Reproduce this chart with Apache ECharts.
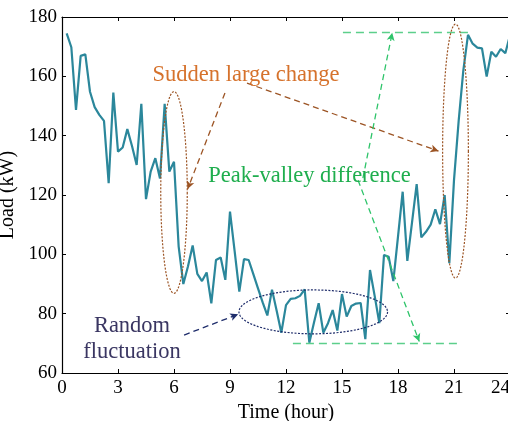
<!DOCTYPE html>
<html>
<head>
<meta charset="utf-8">
<script src="https://cdn.jsdelivr.net/npm/echarts@6/dist/echarts.min.js"></script>
<style>
html, body { margin: 0; padding: 0; background: #fff; }
#main { width: 508px; height: 421px; }
</style>
</head>
<body>
<div id="main"></div>
<script>
// load every 15 min (kW), first sample at 0:15
var loads = [
    174.5, 169.8, 148.7, 166.9, 167.4, 154.8, 149.6, 147, 145, 124,
    154.5, 134.6, 136, 142.2, 136.5, 130.1, 150.7, 118.6, 127.9, 132.4,
    125.6, 150.7, 127.9, 131.2, 102.6, 90, 96, 103, 93.4, 91,
    93.9, 83.5, 98.1, 98.9, 91.4, 114.4, 101, 87.4, 98.4, 98.1,
    93.3, 88.5, 83.8, 79.4, 88.1, 81, 73.6, 82.9, 85, 85.2,
    86, 88.2, 70.2, 77, 83.5, 73.6, 76.8, 81.2, 74.3, 86.6,
    79, 82.6, 83.4, 83.6, 71.4, 94.7, 86, 76.8, 99.8, 99.2,
    91, 106, 121.1, 97.8, 110.7, 123.7, 105.7, 107.6, 110, 115.2,
    110.2, 120, 97, 125, 145, 162, 174, 171, 169.7, 169.4,
    159.9, 168.3, 166.6, 169.2, 167.8, 173.9
];
var hours = loads.map(function(v, i) { return (i + 1) * 0.25; });

var xMin = 0, xMax = 24, xStep = 3;
var yMin = 60, yMax = 180, yStep = 20;
var peakLoad = 175, valleyLoad = 70;

var serif = '"Liberation Serif", "Times New Roman", serif';
var lineColor = '#2b879b';
var brown = '#9c5424', orange = '#d6722c';
var green = '#2ec46a', greenText = '#1fae4e', greenLight = '#5ccf8b';
var navy = '#1f2d6b', purple = '#3a3662';

var myChart = echarts.init(document.getElementById('main'));

function axisBase(pos) {
    return {
        type: 'value',
        position: pos,
        axisLine: { show: true, onZero: false, lineStyle: { color: '#000', width: 1.2 } },
        axisTick: { show: true, inside: true, length: 4, lineStyle: { color: '#000', width: 1 } },
        splitLine: { show: false },
        axisLabel: { show: false }
    };
}

var xBottom = axisBase('bottom');
xBottom.axisLabel = { show: true, color: '#000', fontSize: 19, fontFamily: serif, margin: 6, alignMaxLabel: 'right' };
xBottom.name = 'Time (hour)';
xBottom.nameLocation = 'middle';
xBottom.nameGap = 28;
xBottom.nameTextStyle = { color: '#000', fontSize: 20, fontFamily: serif };
var xTop = axisBase('top');
[xBottom, xTop].forEach(function(a) { a.min = xMin; a.max = xMax; a.interval = xStep; });

var yLeft = axisBase('left');
yLeft.axisLabel = { show: true, color: '#000', fontSize: 19, fontFamily: serif, margin: 5, padding: [6, 0, 0, 0] };
yLeft.name = 'Load (kW)';
yLeft.nameLocation = 'middle';
yLeft.nameGap = 34;
yLeft.nameTextStyle = { color: '#000', fontSize: 20, fontFamily: serif };
var yRight = axisBase('right');
[yLeft, yRight].forEach(function(a) { a.min = yMin; a.max = yMax; a.interval = yStep; });

// dashed lines and arrows, in data coords
function seg(from, to, color, dash, arrowEnd) {
    return [
        { coord: from, symbol: 'none', lineStyle: { color: color, type: dash, width: 1.3 } },
        { coord: to, symbol: arrowEnd ? 'arrow' : 'none', symbolSize: [6, 8] }
    ];
}

var marks = [
    seg([8.73, 154.4], [6.73, 122.0], brown, [6, 4], true),
    seg([9.91, 157.7], [20.17, 134.8], brown, [6, 4], true),
    seg([15.05, peakLoad], [22.0, peakLoad], greenLight, [8, 5], false),
    seg([12.37, valleyLoad], [21.37, valleyLoad], greenLight, [8, 5], false),
    seg([16.12, 125.7], [17.69, 174.7], green, [6, 4], true),
    seg([15.86, 125.0], [19.14, 70.6], green, [6, 4], true),
    seg([6.54, 72.8], [9.44, 79.8], navy, [6, 4], true)
];

var option = {
    animation: false,
    grid: { left: 62, right: -2, top: 17, bottom: 48, containLabel: false, outerBoundsMode: 'none' },
    xAxis: [xBottom, xTop],
    yAxis: [yLeft, yRight],
    series: [{
        type: 'line',
        xAxisIndex: 0,
        yAxisIndex: 0,
        data: loads.map(function(v, i) { return [hours[i], v]; }),
        showSymbol: false,
        lineStyle: { color: lineColor, width: 2.2 },
        markLine: {
            silent: true,
            symbol: ['none', 'none'],
            label: { show: false },
            emphasis: { disabled: true },
            data: marks
        }
    }]
};
myChart.setOption(option);

// ellipses + texts positioned through the axes
function px(p) { return myChart.convertToPixel({ seriesIndex: 0 }, p); }

function ellipse(c, rx, ry, color) {
    var o = px(c), e = px([c[0] + rx, c[1] + ry]);
    var ax = e[0] - o[0], ay = o[1] - e[1];
    var pts = [];
    for (var i = 0; i < 120; i++) {
        var a = i / 120 * Math.PI * 2;
        pts.push([o[0] + ax * Math.cos(a), o[1] + ay * Math.sin(a)]);
    }
    return {
        type: 'polygon', silent: true, z: 10,
        shape: { points: pts },
        style: { fill: null, stroke: color, lineWidth: 1.2, lineDash: [2, 1.5] }
    };
}

function label(p, text, color, lh) {
    var q = px(p);
    return {
        type: 'text', silent: true, z: 11, x: q[0], y: q[1],
        style: {
            text: text, fill: color, fontSize: 22.5, fontFamily: serif,
            align: 'center', verticalAlign: 'middle', lineHeight: lh || 26
        }
    };
}

myChart.setOption({
    graphic: [
        ellipse([6.0, 120.85], 0.71, 34, brown),
        ellipse([21.08, 134.8], 0.69, 42.8, brown),
        ellipse([13.46, 80.6], 3.98, 7.4, navy),
        label([9.86, 160.45], 'Sudden large change', orange),
        label([13.26, 126.4], 'Peak-valley difference', greenText),
        label([3.75, 71.5], 'Random\nfluctuation', purple)
    ]
});
</script>
</body>
</html>
